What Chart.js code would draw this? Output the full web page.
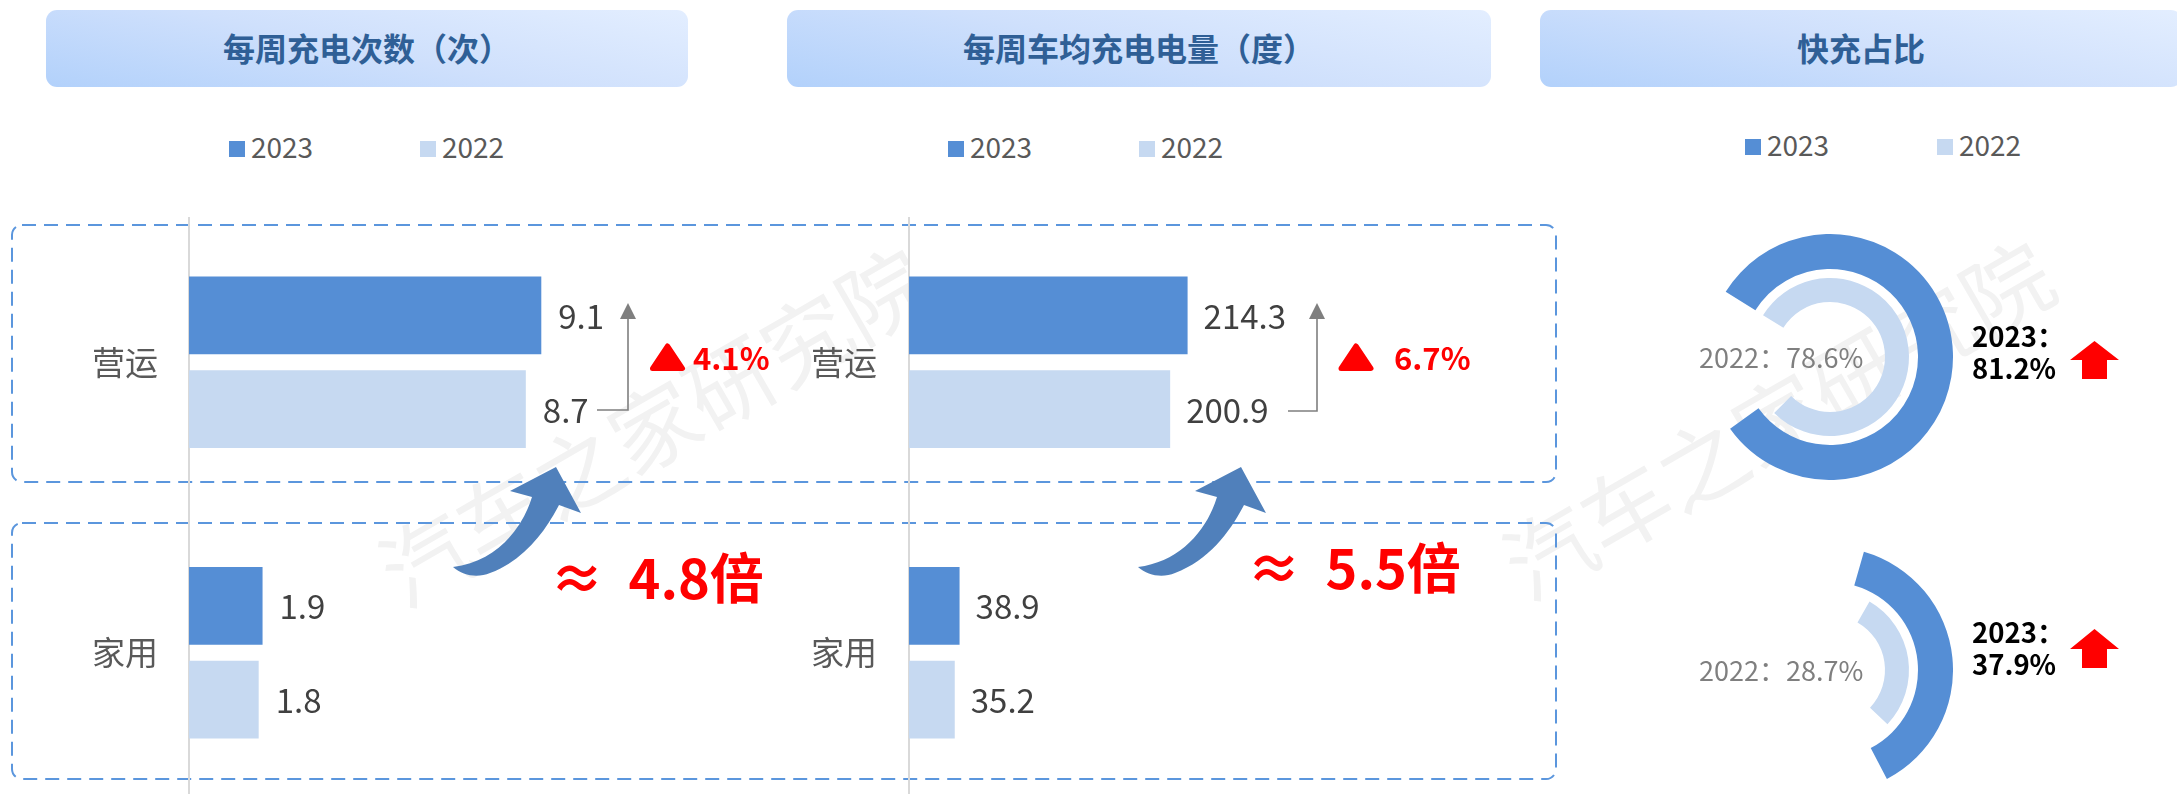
<!DOCTYPE html>
<html><head><meta charset="utf-8">
<script src="https://cdn.jsdelivr.net/npm/chart.js@4"></script>
<style>
html,body{margin:0;padding:0;background:#fff;}
body{width:2177px;height:794px;position:relative;overflow:hidden;font-family:"Noto Sans CJK SC","Noto Sans",sans-serif;}
.abs{position:absolute;white-space:pre;line-height:1;}
canvas{position:absolute;}
.title{position:absolute;top:10px;height:77px;box-sizing:border-box;padding-bottom:4px;border-radius:11px;background:linear-gradient(12deg,#b2d1fb 0%,#cfe0fc 50%,#e3eeff 100%);color:#2f5f96;font-weight:700;font-size:32px;display:flex;align-items:center;justify-content:center;}
.wm{position:absolute;color:#f2f2f2;font-size:88px;line-height:1;white-space:pre;transform:translate(-50%,-50%) rotate(-30deg);font-family:"Noto Sans CJK SC";font-weight:400;}
.leg{position:absolute;color:#595959;font-size:28px;line-height:1;}
.sw{position:absolute;width:16px;height:16px;}
svg{position:absolute;left:0;top:0;}
</style></head><body>
<div class="wm" style="left:652px;top:423px">汽车之家研究院</div>
<div class="wm" style="left:1776px;top:416px">汽车之家研究院</div>

<div class="title" style="left:46px;width:642px">每周充电次数（次）</div>
<div class="title" style="left:787px;width:704px">每周车均充电电量（度）</div>
<div class="title" style="left:1540px;width:642px">快充占比</div>
<div id="legends"></div>

<svg id="boxes" width="2177" height="794">
<rect x="12" y="225" width="1544" height="257" rx="10" fill="none" stroke="#5b96dd" stroke-width="2" stroke-dasharray="14 8"/>
<rect x="12" y="523" width="1544" height="256" rx="10" fill="none" stroke="#5b96dd" stroke-width="2" stroke-dasharray="14 8"/>
</svg>

<canvas id="countChart" width="671" height="581" style="left:60px;top:217px"></canvas>
<canvas id="energyChart" width="649" height="581" style="left:780px;top:217px"></canvas>
<canvas id="shareChartA" width="246" height="246" style="left:1707px;top:234px"></canvas>
<canvas id="shareChartB" width="246" height="246" style="left:1707px;top:547px"></canvas>

<svg id="marks" width="2177" height="794">
<g fill="none" stroke="#7f7f7f" stroke-width="1.6"><path d="M597 410H628V318"/><path d="M1288 411H1317V318"/></g>
<g fill="#7f7f7f"><path d="M628 303L636 319H620Z"/><path d="M1317 303L1325 319H1309Z"/></g>
<g fill="#ff0000" stroke="#ff0000" stroke-width="5" stroke-linejoin="round"><path d="M667.5 346L682.500 368.500H652.500Z"/><path d="M1356 346L1371 368.500H1341Z"/></g>
<g fill="#5080bb">
<path id="bigArrow" d="M556 467L510 491L532 497C522 530 495 562 453 567C463 576 478 578 490 573C525 560 546 530 559 505L581 513Z"/>
<use href="#bigArrow" x="685"/>
</g>
<g fill="#ff0000"><path d="M2094.500 341L2119 360H2107V379H2082V360H2070Z"/><path d="M2094.500 629L2119 649H2107V668H2082V649H2070Z"/></g>
</svg>

<div class="abs" style="left:693px;top:341px;font-size:31px;font-weight:700;color:#f00" id="d1"></div>
<div class="abs" style="left:1394px;top:341px;font-size:31px;font-weight:700;color:#f00" id="d2"></div>
<div class="abs" style="left:550px;top:549px;font-size:54px;font-weight:700;color:#f00" id="m1"></div>
<div class="abs" style="left:1247px;top:539px;font-size:54px;font-weight:700;color:#f00" id="m2"></div>
<div class="abs" style="left:1699px;top:343px;font-size:27px;color:#7f7f7f" id="p1"></div>
<div class="abs" style="left:1699px;top:656px;font-size:27px;color:#7f7f7f" id="p2"></div>
<div class="abs" style="left:1972px;top:320px;font-size:27.500px;font-weight:700;color:#000;line-height:31.500px" id="c1"></div>
<div class="abs" style="left:1972px;top:616px;font-size:27.500px;font-weight:700;color:#000;line-height:31.500px" id="c2"></div>

<script>
const categories = ['营运', '家用'];
const seriesNames = ['2023', '2022'];
const chargeCount2023 = [9.1, 1.9];
const chargeCount2022 = [8.7, 1.8];
const energy2023 = [214.3, 38.9];
const energy2022 = [200.9, 35.2];
const fastShare2023 = [81.2, 37.9];
const fastShare2022 = [78.6, 28.7];
const growthLabels = ['4.1%', '6.7%'];
const multipleLabels = ['≈  4.8倍', '≈  5.5倍'];
const color2023 = '#558ed5';
const color2022 = '#c6d9f1';
const fontCJK = '"Noto Sans CJK SC","Noto Sans",sans-serif';

Chart.defaults.font.family = fontCJK;
Chart.defaults.animation = false;

const valueLabels = {
  id: 'valueLabels',
  afterDatasetsDraw(chart, args, opts) {
    const ctx = chart.ctx;
    ctx.save();
    ctx.font = '33px ' + fontCJK;
    ctx.fillStyle = '#404040';
    ctx.textBaseline = 'middle';
    ctx.textAlign = 'left';
    chart.data.datasets.forEach((ds, i) => {
      chart.getDatasetMeta(i).data.forEach((bar, j) => {
        ctx.fillText(ds.data[j].toFixed(1), bar.x + opts.offset, bar.y + 1);
      });
    });
    ctx.restore();
  }
};

function barChart(id, a, b, axisWidth, tickPad, xMax, offset) {
  return new Chart(document.getElementById(id), {
    type: 'bar',
    data: {
      labels: categories,
      datasets: [
        { label: seriesNames[0], data: a, backgroundColor: color2023 },
        { label: seriesNames[1], data: b, backgroundColor: color2022 }
      ]
    },
    options: {
      indexAxis: 'y',
      responsive: false,
      devicePixelRatio: 1,
      categoryPercentage: 0.646,
      barPercentage: 0.83,
      layout: { padding: 0 },
      plugins: { legend: { display: false }, tooltip: { enabled: false }, valueLabels: { offset } },
      scales: {
        x: { display: false, min: 0, max: xMax },
        y: {
          afterFit(s) { s.width = axisWidth; s.paddingTop = 0; s.paddingBottom = 0; },
          grid: { drawOnChartArea: false, drawTicks: false },
          border: { color: '#d9d9d9', width: 2 },
          ticks: { color: '#595959', padding: tickPad, font: { size: 33 } }
        }
      }
    },
    plugins: [valueLabels]
  });
}
barChart('countChart', chargeCount2023, chargeCount2022, 129, 31, 14, 17);
barChart('energyChart', energy2023, energy2022, 129, 32, 400, 16);

function ring(id, v23, v22, rot23, rot22) {
  return new Chart(document.getElementById(id), {
    type: 'doughnut',
    data: {
      labels: seriesNames,
      datasets: [
        { label: seriesNames[0], data: [v23, 100 - v23], weight: 35, rotation: rot23, backgroundColor: [color2023, 'rgba(0,0,0,0)'], borderWidth: 0 },
        { label: 'gap', data: [1], weight: 9, rotation: rot23, backgroundColor: ['rgba(0,0,0,0)'], borderWidth: 0 },
        { label: seriesNames[1], data: [v22, 100 - v22], weight: 24, rotation: rot22, backgroundColor: [color2022, 'rgba(0,0,0,0)'], borderWidth: 0 }
      ]
    },
    options: {
      responsive: false,
      devicePixelRatio: 1,
      cutout: '44.7%',
      plugins: { legend: { display: false }, tooltip: { enabled: false } }
    }
  });
}
ring('shareChartA', fastShare2023[0], fastShare2022[0], 302, 302);
ring('shareChartB', fastShare2023[1], fastShare2022[1], 16, 30);

function addLegend(x1, x2, top) {
  const root = document.getElementById('legends');
  [[x1, color2023, seriesNames[0]], [x2, color2022, seriesNames[1]]].forEach(([x, c, t]) => {
    const s = document.createElement('div');
    s.className = 'sw'; s.style.left = x + 'px'; s.style.top = (top + 1) + 'px'; s.style.background = c;
    const l = document.createElement('div');
    l.className = 'leg'; l.style.left = (x + 22) + 'px'; l.style.top = (top - 8) + 'px'; l.textContent = t;
    root.appendChild(s); root.appendChild(l);
  });
}
addLegend(229, 420, 140);
addLegend(948, 1139, 140);
addLegend(1745, 1937, 138);

document.getElementById('d1').textContent = growthLabels[0];
document.getElementById('d2').textContent = growthLabels[1];
document.getElementById('m1').textContent = multipleLabels[0];
document.getElementById('m2').textContent = multipleLabels[1];
document.getElementById('p1').textContent = seriesNames[1] + '：' + fastShare2022[0].toFixed(1) + '%';
document.getElementById('p2').textContent = seriesNames[1] + '：' + fastShare2022[1].toFixed(1) + '%';
document.getElementById('c1').textContent = seriesNames[0] + '：\n' + fastShare2023[0].toFixed(1) + '%';
document.getElementById('c2').textContent = seriesNames[0] + '：\n' + fastShare2023[1].toFixed(1) + '%';
</script>
</body></html>
